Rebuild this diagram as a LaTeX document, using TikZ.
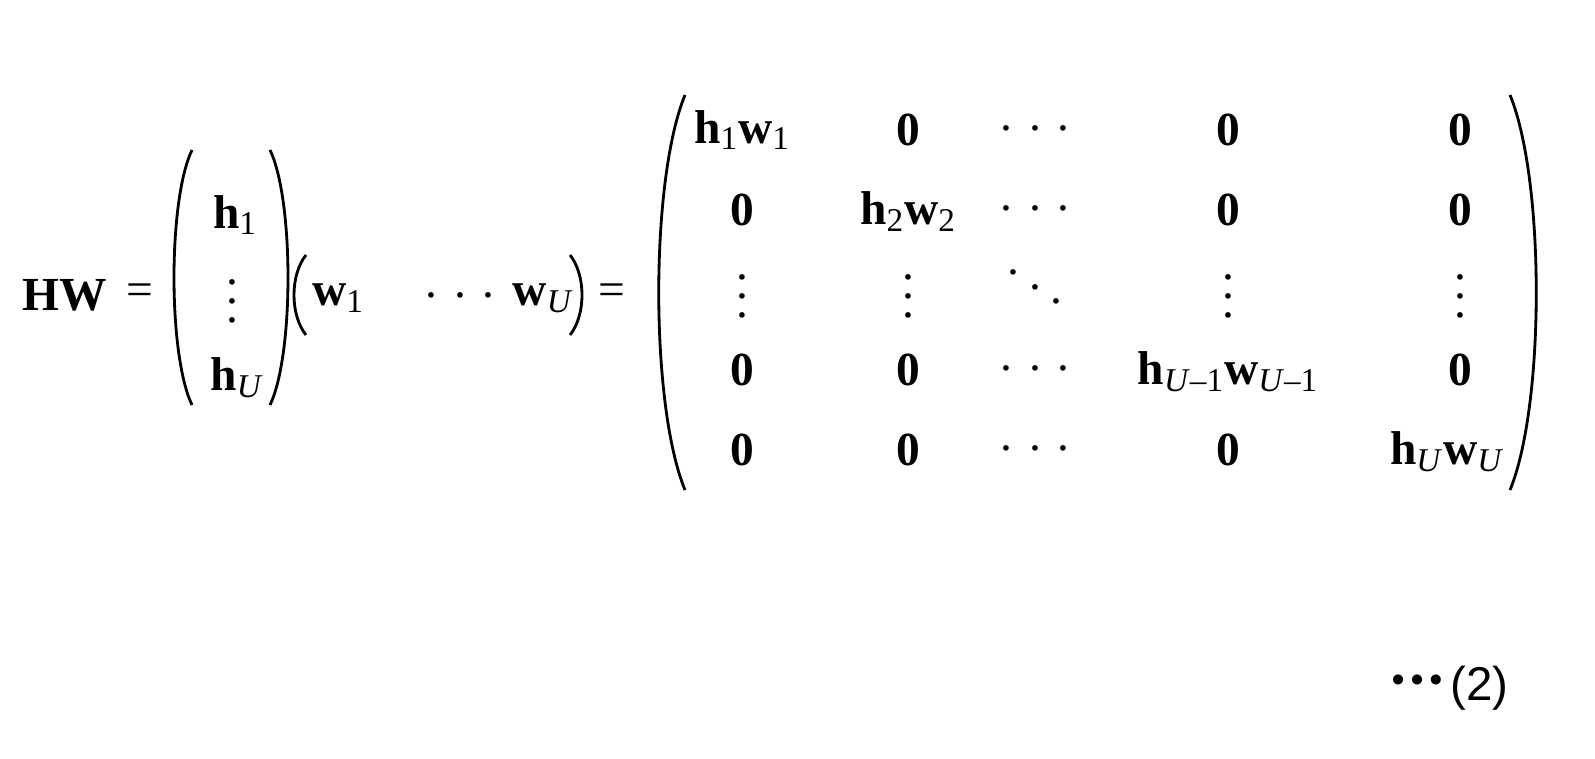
\documentclass[tikz,border=0pt]{standalone}
\usepackage{fontspec}
\setmainfont{Liberation Serif}
\newfontfamily\sansf{Liberation Sans}
\newcommand{\bv}[2]{\textbf{#1}\textsubscript{#2}}
\newcommand{\hdts}{.\hspace{0.35em}.\hspace{0.35em}.}
\newcommand{\vdts}{\begin{tabular}{@{}c@{}}.\\[-0.78em].\\[-0.78em].\end{tabular}}
\newcommand{\ddts}{\raisebox{0.6em}{.}\hspace{0.2em}\raisebox{0.3em}{.}\hspace{0.2em}.}
\begin{document}
\begin{tikzpicture}[x=0.02cm,y=-0.02cm,
      every node/.style={font=\fontsize{27}{32}\selectfont,inner sep=0pt},
      paren/.style={line width=1.6pt},
      ]
      \useasboundingbox (0,0) rectangle (1595,758);
      % left side
      \node (hw) at (65,295) {\textbf{HW}};
      \node (eqa) at (140,295) {=};
      % column vector
      \draw[paren] (192,150) .. controls (168,200) and (168,355) .. (192,405);
      \draw[paren] (270,150) .. controls (294,200) and (294,355) .. (270,405);
      \node (h1) at (235,215) {\bv{h}{1}};
      \node (hd) at (232,292) {\vdts};
      \node (hU) at (237,378) {\bv{h}{\textit{U}}};
      % row vector
      \draw[paren] (306,255) .. controls (290,275) and (290,315) .. (306,335);
      \draw[paren] (570,255) .. controls (586,275) and (586,315) .. (570,335);
      \node (w1) at (338,298) {\bv{w}{1}};
      \node (wd) at (460,295) {\hdts};
      \node (wU) at (543,298) {\bv{w}{\textit{U}}};
      \node (eqb) at (612,295) {=};
      % big matrix
      \draw[paren] (685,95) .. controls (650,180) and (650,405) .. (685,490);
      \draw[paren] (1510,95) .. controls (1545,180) and (1545,405) .. (1510,490);
      \node (m11) at (742,130) {\bv{h}{1}\bv{w}{1}};
      \node (m12) at (908,130) {\textbf{0}};
      \node (m13) at (1035,128) {\hdts};
      \node (m14) at (1228,130) {\textbf{0}};
      \node (m15) at (1460,130) {\textbf{0}};
      \node (m21) at (742,210) {\textbf{0}};
      \node (m22) at (908,212) {\bv{h}{2}\bv{w}{2}};
      \node (m23) at (1035,208) {\hdts};
      \node (m24) at (1228,210) {\textbf{0}};
      \node (m25) at (1460,210) {\textbf{0}};
      \node (m31) at (742,287) {\vdts};
      \node (m32) at (908,287) {\vdts};
      \node (m33) at (1035,287) {\ddts};
      \node (m34) at (1228,287) {\vdts};
      \node (m35) at (1460,287) {\vdts};
      \node (m41) at (742,370) {\textbf{0}};
      \node (m42) at (908,370) {\textbf{0}};
      \node (m43) at (1035,368) {\hdts};
      \node (m44) at (1228,372) {\bv{h}{\textit{U}--1}\bv{w}{\textit{U}--1}};
      \node (m45) at (1460,370) {\textbf{0}};
      \node (m51) at (742,450) {\textbf{0}};
      \node (m52) at (908,450) {\textbf{0}};
      \node (m53) at (1035,448) {\hdts};
      \node (m54) at (1228,450) {\textbf{0}};
      \node (m55) at (1447,452) {\bv{h}{\textit{U}}\bv{w}{\textit{U}}};
      % equation number
      \node (num) at (1450,688) {\sansf\textbf{\raisebox{0.3em}{\scalebox{0.6}{$\bullet\bullet\bullet$}}}\,(2)};
\end{tikzpicture}
\end{document}
